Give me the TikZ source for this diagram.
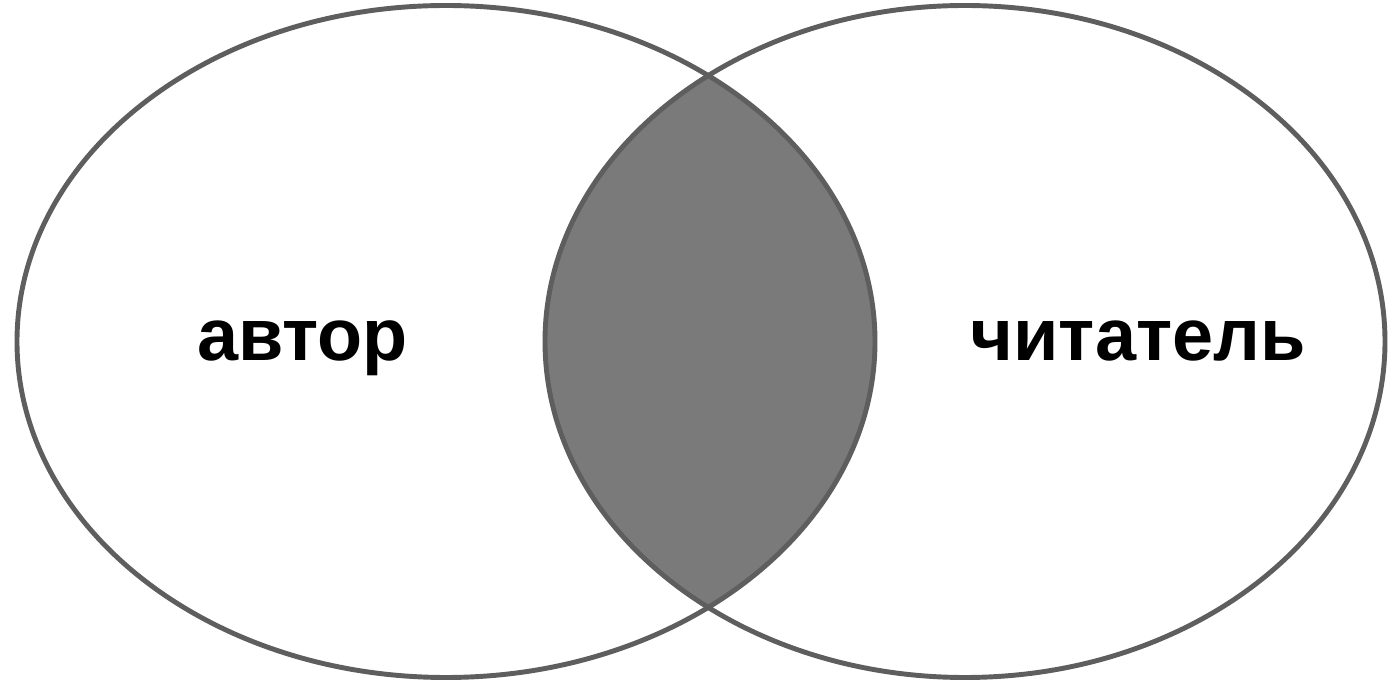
\documentclass[tikz,border=0pt]{standalone}
\usepackage{fontspec}
\setmainfont{Liberation Sans}
\usetikzlibrary{positioning}

\definecolor{rimgray}{HTML}{5E5E5E}
\definecolor{lensgray}{HTML}{7A7A7A}

\begin{document}
\begin{tikzpicture}[
      line cap=round,
      line join=round,
      rim/.style={draw=rimgray,line width=2.8pt},
      lens/.style={fill=lensgray},
      circlelabel/.style={anchor=base,font=\fontsize{42}{48}\selectfont\bfseries},
    ]

    % 画布大小
    \useasboundingbox (0,0) rectangle (27.76,13.62);

    % 两个椭圆的中心
    \coordinate (L) at (8.92,6.79);
    \coordinate (R) at (19.30,6.79);

    % 交集部分（先填充）
    \begin{scope}
      \clip (L) ellipse [x radius=8.58, y radius=6.72];
      \fill[lens] (R) ellipse [x radius=8.40, y radius=6.72];
    \end{scope}

    % 两个椭圆的轮廓
    \draw[rim] (L) ellipse [x radius=8.58, y radius=6.72];
    \draw[rim] (R) ellipse [x radius=8.40, y radius=6.72];

    % 文字
    \node[circlelabel] (author) at (6.05,6.40) {автор};
    \node[circlelabel] (reader) at (22.76,6.40) {читатель};

\end{tikzpicture}
\end{document}
